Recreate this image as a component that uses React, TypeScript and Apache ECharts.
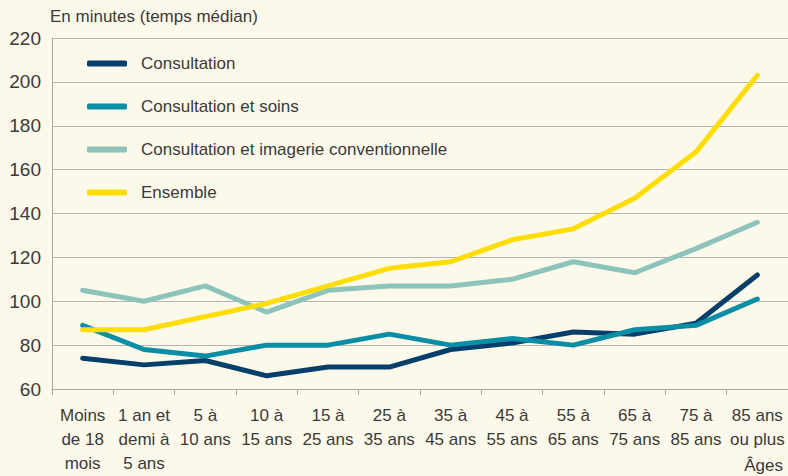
import React, { useEffect, useRef } from "react";
import * as echarts from "echarts";

const categories = [
  "Moins\nde 18\nmois",
  "1 an et\ndemi à\n5 ans",
  "5 à\n10 ans",
  "10 à\n15 ans",
  "15 à\n25 ans",
  "25 à\n35 ans",
  "35 à\n45 ans",
  "45 à\n55 ans",
  "55 à\n65 ans",
  "65 à\n75 ans",
  "75 à\n85 ans",
  "85 ans\nou plus",
];

const consultation = [74, 71, 73, 66, 70, 70, 78, 81, 86, 85, 90, 112];
const consultationSoins = [89, 78, 75, 80, 80, 85, 80, 83, 80, 87, 89, 101];
const consultationImagerie = [105, 100, 107, 95, 105, 107, 107, 110, 118, 113, 124, 136];
const ensemble = [87, 87, 93, 99, 107, 115, 118, 128, 133, 147, 168, 203];

const seriesNames = [
  "Consultation",
  "Consultation et soins",
  "Consultation et imagerie conventionnelle",
  "Ensemble",
];
const seriesColors = ["#053f6a", "#0a8ea6", "#8cc3bb", "#ffdd00"];
const seriesData = [consultation, consultationSoins, consultationImagerie, ensemble];

const FONT = "'Liberation Sans', Arial, sans-serif";
const TEXT = "#3a3a3a";

export default function App() {
  const ref = useRef<HTMLDivElement>(null);
  useEffect(() => {
    if (!ref.current) return;
    const chart = echarts.init(ref.current, null, { renderer: "svg" });
    chart.setOption({
      animation: false,
      backgroundColor: "#fdf9ea",
      textStyle: { fontFamily: FONT, color: TEXT },
      grid: { left: 52, top: 38, right: -8, height: 351, containLabel: false },
      graphic: [
        {
          type: "text",
          left: 50,
          top: 8,
          style: { text: "En minutes (temps médian)", font: `17px ${FONT}`, fill: TEXT },
        },
        {
          type: "text",
          right: 5,
          top: 457,
          style: { text: "Âges", font: `17px ${FONT}`, fill: TEXT },
        },
      ],
      legend: {
        orient: "vertical",
        left: 82,
        top: 50,
        itemWidth: 40,
        itemHeight: 6,
        itemGap: 26,
        icon: "roundRect",
        data: seriesNames,
        textStyle: { fontFamily: FONT, fontSize: 17, color: TEXT, padding: [0, 0, 0, 9] },
      },
      xAxis: {
        type: "category",
        data: categories,
        boundaryGap: true,
        axisLine: { lineStyle: { color: "#a8a8a8", width: 1 } },
        axisTick: { show: true, length: 6, lineStyle: { color: "#a8a8a8" } },
        axisLabel: {
          fontFamily: FONT,
          fontSize: 17,
          color: TEXT,
          lineHeight: 24,
          margin: 14,
          interval: 0,
        },
      },
      yAxis: {
        type: "value",
        min: 60,
        max: 220,
        interval: 20,
        axisLine: { show: true, lineStyle: { color: "#a8a8a8", width: 1 } },
        axisTick: { show: false },
        splitLine: { lineStyle: { color: "#b4b4b4", width: 1 } },
        axisLabel: { fontFamily: FONT, fontSize: 19, color: TEXT, margin: 11 },
      },
      series: seriesNames.map((name, i) => ({
        name,
        type: "line",
        data: seriesData[i],
        symbol: "none",
        itemStyle: { color: seriesColors[i] },
        lineStyle: { color: seriesColors[i], width: 5, cap: "round", join: "round" },
      })),
    });
    return () => chart.dispose();
  }, []);
  return <div ref={ref} style={{ width: 788, height: 476, position: "absolute", left: 0, top: 0 }} />;
}
